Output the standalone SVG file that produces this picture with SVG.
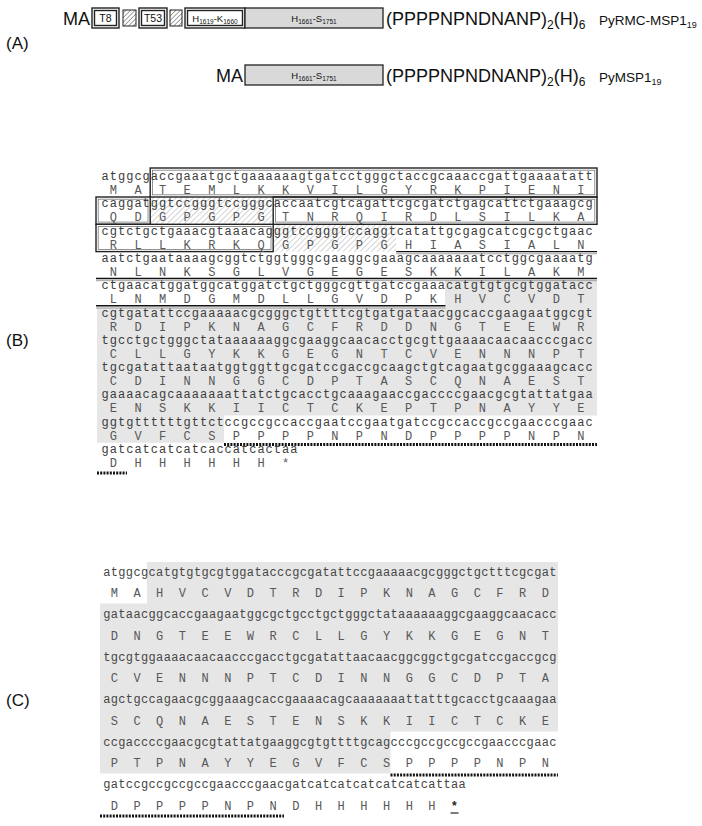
<svg xmlns="http://www.w3.org/2000/svg" width="702" height="826" viewBox="0 0 702 826">
<defs>
<style>
.sans{font-family:"Liberation Sans",Arial,sans-serif;fill:#111}
.lbl{font-family:"Liberation Sans",Arial,sans-serif;fill:#111;font-size:17px}
.mb{font-family:"Liberation Mono","Courier New",monospace;font-size:12px;letter-spacing:1px;fill:#3c3c3c}
.pb{font-family:"Liberation Mono","Courier New",monospace;font-size:12px;letter-spacing:1px;fill:#585858;white-space:pre}
.mc{font-family:"Liberation Mono","Courier New",monospace;font-size:12px;letter-spacing:0.36px;fill:#464646}
.pc{font-family:"Liberation Mono","Courier New",monospace;font-size:12px;letter-spacing:0.36px;fill:#585858;white-space:pre}
.box{fill:none;stroke:#222;stroke-width:1.4}
.inner{fill:none;stroke:#777;stroke-width:0.8}
.ul{stroke:#111;stroke-width:1.4}
.ul2{stroke:#888;stroke-width:0.8}
.dot{stroke:#111;stroke-width:2.8;stroke-dasharray:2 1.2;fill:none}
.shade{fill:#e6e6e6}
</style>
<pattern id="hatch" width="4" height="4" patternUnits="userSpaceOnUse" patternTransform="rotate(45)">
<line x1="0" y1="0" x2="0" y2="4" stroke="#a0a0a0" stroke-width="0.9"/>
</pattern>
<pattern id="hatchA" width="3.2" height="3.2" patternUnits="userSpaceOnUse" patternTransform="rotate(45)">
<line x1="0" y1="0" x2="0" y2="3.2" stroke="#333" stroke-width="0.9"/>
</pattern>
</defs>
<rect width="702" height="826" fill="#fff"/>

<!-- Panel A -->
<g id="panelA">
<text class="lbl" x="6" y="49">(A)</text>
<g id="rmc">
<text class="sans" x="63" y="24.5" font-size="18">MA</text>
<rect class="box" x="92" y="8" width="27" height="20" stroke-width="1"/>
<rect class="box" x="94.5" y="10.5" width="22" height="15" stroke-width="0.8"/>
<text class="sans" x="105.5" y="22" font-size="10.5" text-anchor="middle">T8</text>
<rect x="123" y="10" width="13" height="16" fill="url(#hatchA)" stroke="#222" stroke-width="1"/>
<rect class="box" x="139" y="8" width="28" height="20" stroke-width="1"/>
<rect class="box" x="141.5" y="10.5" width="23" height="15" stroke-width="0.8"/>
<text class="sans" x="153" y="22" font-size="10.5" text-anchor="middle">T53</text>
<rect x="170" y="10" width="12" height="16" fill="url(#hatchA)" stroke="#222" stroke-width="1"/>
<rect class="box" x="185" y="8" width="60" height="20" stroke-width="1"/>
<rect class="box" x="187.5" y="10.5" width="55" height="15" stroke-width="0.8"/>
<text class="sans" x="215" y="22" font-size="9.5" text-anchor="middle">H<tspan font-size="6.5" dy="2">1619</tspan><tspan dy="-2">-K</tspan><tspan font-size="6.5" dy="2">1660</tspan></text>
<rect x="245" y="8" width="138" height="20" fill="#d9d9d9" stroke="#222" stroke-width="1.3"/>
<text class="sans" x="314" y="22" font-size="9.5" text-anchor="middle">H<tspan font-size="6.5" dy="2">1661</tspan><tspan dy="-2">-S</tspan><tspan font-size="6.5" dy="2">1751</tspan></text>
<text class="sans" x="386" y="24.5" font-size="18">(PPPPNPNDNANP)<tspan font-size="12" dy="4">2</tspan><tspan dy="-4">(H)</tspan><tspan font-size="12" dy="4">6</tspan></text>
<text class="sans" x="599" y="25" font-size="13.5">PyRMC-MSP1<tspan font-size="9" dy="3">19</tspan></text>
</g>
<g id="msp">
<text class="sans" x="216" y="81.5" font-size="18">MA</text>
<rect x="245" y="65" width="138" height="20" fill="#d9d9d9" stroke="#222" stroke-width="1.3"/>
<text class="sans" x="314" y="79" font-size="9.5" text-anchor="middle">H<tspan font-size="6.5" dy="2">1661</tspan><tspan dy="-2">-S</tspan><tspan font-size="6.5" dy="2">1751</tspan></text>
<text class="sans" x="386" y="81.5" font-size="18">(PPPPNPNDNANP)<tspan font-size="12" dy="4">2</tspan><tspan dy="-4">(H)</tspan><tspan font-size="12" dy="4">6</tspan></text>
<text class="sans" x="599" y="82" font-size="13.5">PyMSP1<tspan font-size="9" dy="3">19</tspan></text>
</g>
</g>

<!-- Panel B -->
<g id="panelB">
<text class="lbl" x="6" y="346">(B)</text>
<polygon class="shade" points="445,280.5 597,280.5 597,415.4 224,415.4 224,442.7 97,442.7 97,307.5 445,307.5"/>
<rect x="150.2" y="197" width="123" height="27.3" fill="url(#hatch)"/>
<rect x="273.2" y="224.3" width="123" height="27.3" fill="url(#hatch)"/>
<g id="boxesB">
<rect class="box" x="150.2" y="168" width="446.8" height="29"/>
<rect class="inner" x="152.4" y="170.2" width="442.4" height="24.6"/>
<rect class="box" x="96" y="197" width="54.2" height="27.3"/>
<rect class="inner" x="98.2" y="199.2" width="49.8" height="22.9"/>
<rect class="box" x="273.2" y="197" width="323.8" height="27.3"/>
<rect class="inner" x="275.4" y="199.2" width="319.4" height="22.9"/>
<rect class="box" x="96" y="224.3" width="177.2" height="27.3"/>
<rect class="inner" x="98.2" y="226.5" width="172.8" height="22.9"/>
</g>
<g id="underlinesB">
<line class="ul" x1="396.2" y1="251.6" x2="597" y2="251.6"/>
<line class="ul2" x1="396.2" y1="253.8" x2="597" y2="253.8"/>
<line class="ul" x1="96" y1="278.5" x2="597" y2="278.5"/>
<line class="ul2" x1="96" y1="280.7" x2="597" y2="280.7"/>
<line class="ul" x1="96" y1="305.8" x2="445.4" y2="305.8"/>
<line class="ul2" x1="96" y1="308" x2="445.4" y2="308"/>
<line class="dot" x1="224" y1="444.5" x2="597" y2="444.5"/>
<line class="dot" x1="97" y1="473" x2="127" y2="473"/>
</g>
<g id="seqB">
<text class="mb" x="101.6" y="180">atggcgaccgaaatgctgaaaaaagtgatcctgggctaccgcaaaccgattgaaaatatt</text>
<text class="pb" x="109.8" y="194" xml:space="preserve">M  A  T  E  M  L  K  K  V  I  L  G  Y  R  K  P  I  E  N  I</text>
<text class="mb" x="101.6" y="207.3">caggatggtccgggtccgggcaccaatcgtcagattcgcgatctgagcattctgaaagcg</text>
<text class="pb" x="109.8" y="221.3" xml:space="preserve">Q  D  G  P  G  P  G  T  N  R  Q  I  R  D  L  S  I  L  K  A</text>
<text class="mb" x="101.6" y="234.6">cgtctgctgaaacgtaaacagggtccgggtccaggtcatattgcgagcatcgcgctgaac</text>
<text class="pb" x="109.8" y="248.6" xml:space="preserve">R  L  L  K  R  K  Q  G  P  G  P  G  H  I  A  S  I  A  L  N</text>
<text class="mb" x="101.6" y="261.9">aatctgaataaaagcggtctggtgggcgaaggcgaaagcaaaaaaatcctggcgaaaatg</text>
<text class="pb" x="109.8" y="275.9" xml:space="preserve">N  L  N  K  S  G  L  V  G  E  G  E  S  K  K  I  L  A  K  M</text>
<text class="mb" x="101.6" y="289.2">ctgaacatggatggcatggatctgctgggcgttgatccgaaacatgtgtgcgtggatacc</text>
<text class="pb" x="109.8" y="303.2" xml:space="preserve">L  N  M  D  G  M  D  L  L  G  V  D  P  K  H  V  C  V  D  T</text>
<text class="mb" x="101.6" y="316.5">cgtgatattccgaaaaacgcgggctgttttcgtgatgataacggcaccgaagaatggcgt</text>
<text class="pb" x="109.8" y="330.5" xml:space="preserve">R  D  I  P  K  N  A  G  C  F  R  D  D  N  G  T  E  E  W  R</text>
<text class="mb" x="101.6" y="343.8">tgcctgctgggctataaaaaaggcgaaggcaacacctgcgttgaaaacaacaacccgacc</text>
<text class="pb" x="109.8" y="357.8" xml:space="preserve">C  L  L  G  Y  K  K  G  E  G  N  T  C  V  E  N  N  N  P  T</text>
<text class="mb" x="101.6" y="371.1">tgcgatattaataatggtggttgcgatccgaccgcaagctgtcagaatgcggaaagcacc</text>
<text class="pb" x="109.8" y="385.1" xml:space="preserve">C  D  I  N  N  G  G  C  D  P  T  A  S  C  Q  N  A  E  S  T</text>
<text class="mb" x="101.6" y="398.4">gaaaacagcaaaaaaattatctgcacctgcaaagaaccgaccccgaacgcgtattatgaa</text>
<text class="pb" x="109.8" y="412.4" xml:space="preserve">E  N  S  K  K  I  I  C  T  C  K  E  P  T  P  N  A  Y  Y  E</text>
<text class="mb" x="101.6" y="425.7">ggtgttttttgttctccgccgccaccgaatccgaatgatccgccaccgccgaacccgaac</text>
<text class="pb" x="109.8" y="439.7" xml:space="preserve">G  V  F  C  S  P  P  P  P  N  P  N  D  P  P  P  P  N  P  N</text>
<text class="mb" x="101.6" y="453">gatcatcatcatcaccatcactaa</text>
<text class="pb" x="109.8" y="467" xml:space="preserve">D  H  H  H  H  H  H  *</text>
</g>
</g>

<!-- Panel C -->
<g id="panelC">
<text class="lbl" x="6" y="706">(C)</text>
<polygon class="shade" points="147,562 558,562 558,731.5 390.5,731.5 390.5,773.5 100,773.5 100,603.5 147,603.5"/>
<g id="dotsC">
<line class="dot" x1="390.5" y1="775" x2="558" y2="775"/>
<line class="dot" x1="100" y1="816" x2="284" y2="816"/>
<line x1="450.5" y1="813" x2="458.5" y2="813" stroke="#222" stroke-width="1.2"/>
</g>
<g id="seqC">
<text class="mc" x="103.2" y="575.5">atggcgcatgtgtgcgtggatacccgcgatattccgaaaaacgcgggctgctttcgcgat</text>
<text class="pc" x="110.76" y="597" xml:space="preserve">M  A  H  V  C  V  D  T  R  D  I  P  K  N  A  G  C  F  R  D</text>
<text class="mc" x="103.2" y="618">gataacggcaccgaagaatggcgctgcctgctgggctataaaaaaggcgaaggcaacacc</text>
<text class="pc" x="110.76" y="639.5" xml:space="preserve">D  N  G  T  E  E  W  R  C  L  L  G  Y  K  K  G  E  G  N  T</text>
<text class="mc" x="103.2" y="660.5">tgcgtggaaaacaacaacccgacctgcgatattaacaacggcggctgcgatccgaccgcg</text>
<text class="pc" x="110.76" y="682" xml:space="preserve">C  V  E  N  N  N  P  T  C  D  I  N  N  G  G  C  D  P  T  A</text>
<text class="mc" x="103.2" y="703">agctgccagaacgcggaaagcaccgaaaacagcaaaaaaattatttgcacctgcaaagaa</text>
<text class="pc" x="110.76" y="724.5" xml:space="preserve">S  C  Q  N  A  E  S  T  E  N  S  K  K  I  I  C  T  C  K  E</text>
<text class="mc" x="103.2" y="745.5">ccgaccccgaacgcgtattatgaaggcgtgttttgcagcccgccgccgccgaacccgaac</text>
<text class="pc" x="110.76" y="767" xml:space="preserve">P  T  P  N  A  Y  Y  E  G  V  F  C  S  P  P  P  P  N  P  N</text>
<text class="mc" x="103.2" y="788">gatccgccgccgccgaacccgaacgatcatcatcatcatcatcattaa</text>
<text class="pc" x="110.76" y="809.5" xml:space="preserve">D  P  P  P  P  N  P  N  D  H  H  H  H  H  H  </text>
<text class="pc" x="454.5" y="809.5" text-anchor="middle" style="fill:#222;font-weight:bold">*</text>
</g>
</g>
</svg>
